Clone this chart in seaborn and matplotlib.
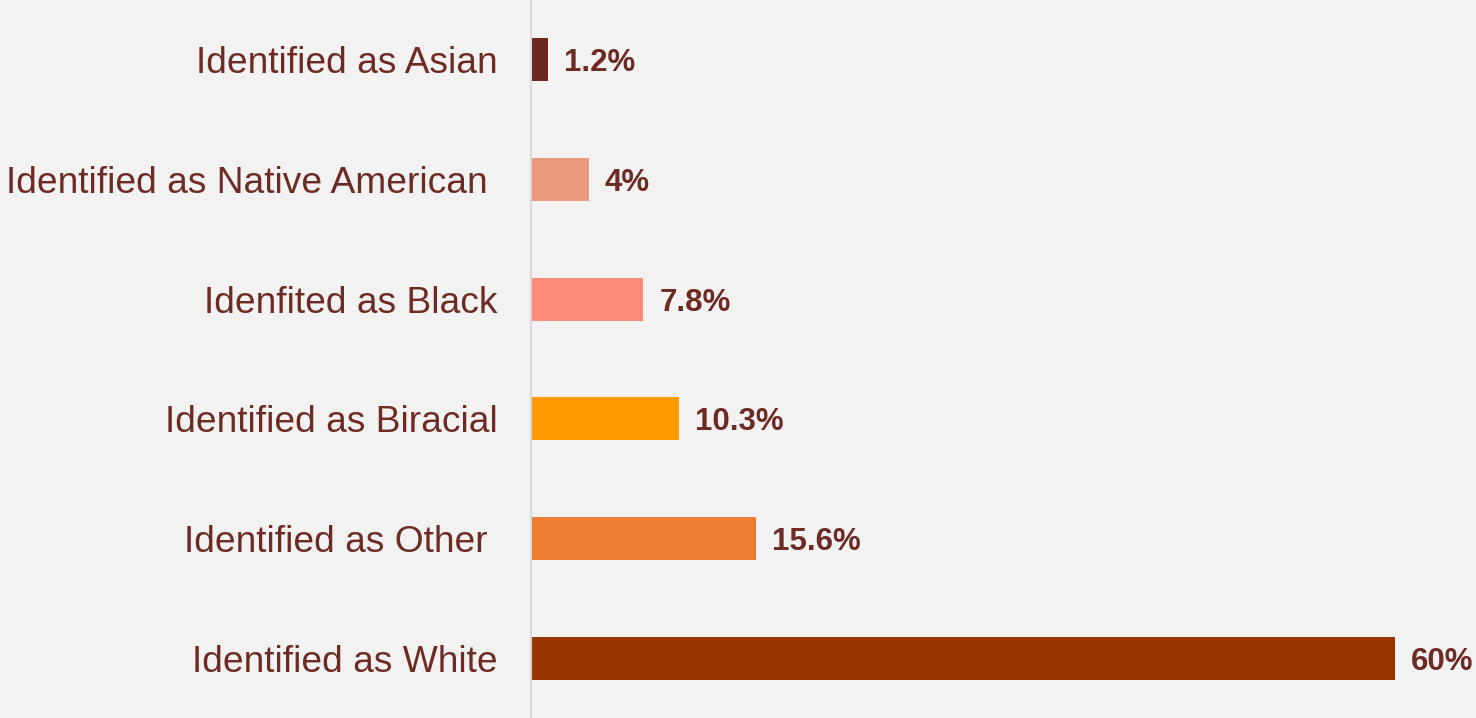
import pandas as pd
import numpy as np
import seaborn as sns
import matplotlib.pyplot as plt

# data
categories = ['Identified as Asian', 'Identified as Native American ', 'Idenfited as Black',
              'Identified as Biracial', 'Identified as Other ', 'Identified as White']
values = [1.2, 4, 7.8, 10.3, 15.6, 60]
value_labels = ['1.2%', '4%', '7.8%', '10.3%', '15.6%', '60%']
colors = ['#6b2720', '#ec9a7e', '#ff8a78', '#ff9900', '#ed7d31', '#993300']

text_color = '#6d2b23'
bg = '#f2f2f2'

sns.set_style('white')
plt.rcParams['font.family'] = ['Liberation Sans', 'DejaVu Sans']

df = pd.DataFrame({'category': categories, 'value': values})

fig = plt.figure(figsize=(14.76, 7.18), dpi=100, facecolor=bg)
ax = fig.add_axes([531 / 1476, 0, 1 - 531 / 1476, 1])
ax.set_facecolor(bg)

sns.barplot(data=df, y='category', x='value', hue='category', palette=colors,
            order=categories, hue_order=categories, width=0.36, legend=False,
            saturation=1, orient='h', linewidth=0, ax=ax)

ax.set_xlim(0, 945 / 14.4)
ax.set_ylim(5.5, -0.5)
ax.set_xlabel('')
ax.set_ylabel('')
ax.set_xticks([])
ax.tick_params(axis='y', length=0, pad=24, labelsize=26.7, labelcolor=text_color)

for side in ['top', 'right', 'bottom']:
    ax.spines[side].set_visible(False)
ax.spines['left'].set_color('#d9d9d9')
ax.spines['left'].set_linewidth(1.5)

for i, (v, lab) in enumerate(zip(values, value_labels)):
    ax.annotate(lab, xy=(v, i), xytext=(11.5, -2.5), textcoords='offset points',
                ha='left', va='center', fontsize=22.5, fontweight='bold',
                color=text_color)

fig.savefig('out.png', dpi=100, facecolor=bg)
